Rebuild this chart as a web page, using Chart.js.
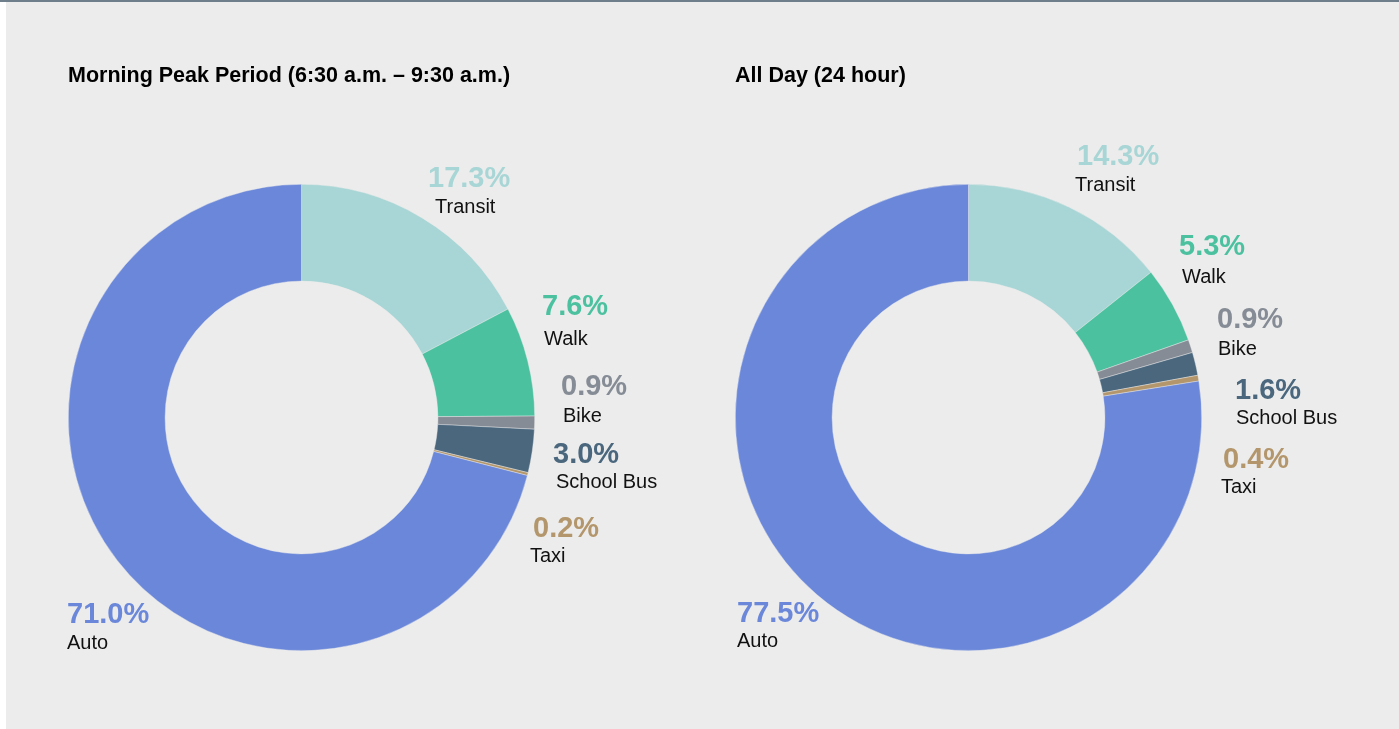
<!DOCTYPE html>
<html>
<head>
<meta charset="utf-8">
<script src="https://cdn.jsdelivr.net/npm/chart.js@4.4.1/dist/chart.umd.min.js"></script>
<style>
  html, body { margin: 0; padding: 0; background: #ffffff; width: 1399px; height: 729px; overflow: hidden; }
  #topline { position: absolute; left: 0; top: 0; width: 1399px; height: 2px; background: #6e7e8b; }
  #panel { position: absolute; left: 6px; top: 2px; width: 1393px; height: 727px; background: #ececec; }
  canvas { position: absolute; top: 0; }
  #c1 { left: 0; }
  #c2 { left: 700px; }
</style>
</head>
<body>
<div id="topline"></div>
<div id="panel"></div>
<canvas id="c1" width="700" height="729" style="width:700px;height:729px"></canvas>
<canvas id="c2" width="699" height="729" style="width:699px;height:729px"></canvas>
<script>
// ---- Data ----
const categories = ['Transit', 'Walk', 'Bike', 'School Bus', 'Taxi', 'Auto'];
const peakValues = [17.3, 7.6, 0.9, 3.0, 0.2, 71.0];
const allDayValues = [14.3, 5.3, 0.9, 1.6, 0.4, 77.5];
const peakTitle = 'Morning Peak Period (6:30 a.m. \u2013 9:30 a.m.)';
const allDayTitle = 'All Day (24 hour)';

// ---- Styles ----
const sliceColors = ['#a8d5d5', '#4cc1a0', '#868c95', '#4a677e', '#b3966b', '#6a87d9'];
const FONT = "'Liberation Sans', Arial, Helvetica, sans-serif";

// label offsets (relative to the donut centre): [pctDx, pctDy, nameDx, nameDy]
const peakLabelLayout = [
  [126.5, -238.5, 133.5, -210.5],
  [240.5, -110.5, 242.5, -78.5],
  [259.5, -30.5, 261.5, -1.0],
  [251.5, 37.5, 254.5, 65.0],
  [231.5, 111.5, 228.5, 139.0],
  [-234.5, 197.5, -234.5, 226.0]
];
const allDayLabelLayout = [
  [108.5, -260.5, 106.5, -232.0],
  [210.5, -170.5, 213.5, -140.0],
  [248.5, -97.5, 249.5, -68.0],
  [266.5, -26.5, 267.5, 1.0],
  [254.5, 42.5, 252.5, 70.0],
  [-231.5, 196.5, -231.5, 224.0]
];

const sliceLabelPlugin = {
  id: 'sliceLabels',
  afterDatasetsDraw(chart, args, opts) {
    const meta = chart.getDatasetMeta(0);
    if (!meta.data.length) return;
    const cx = meta.data[0].x, cy = meta.data[0].y;
    const ds = chart.data.datasets[0];
    const ctx = chart.ctx;
    ctx.save();
    ctx.textAlign = 'left';
    ctx.textBaseline = 'middle';
    chart.data.labels.forEach((lab, i) => {
      const l = opts.layout[i];
      ctx.fillStyle = ds.backgroundColor[i];
      ctx.font = 'bold 29px ' + FONT;
      ctx.fillText(ds.data[i].toFixed(1) + '%', cx + l[0], cy + l[1]);
      ctx.fillStyle = '#111111';
      ctx.font = '20px ' + FONT;
      ctx.fillText(lab, cx + l[2], cy + l[3]);
    });
    ctx.restore();
  }
};

function makeChart(id, values, title, layout, padLeft, padRight) {
  return new Chart(document.getElementById(id), {
    type: 'doughnut',
    data: {
      labels: categories,
      datasets: [{
        data: values,
        backgroundColor: sliceColors,
        borderColor: 'rgba(236,236,236,0.7)',
        borderWidth: 0.6,
        hoverOffset: 0
      }]
    },
    options: {
      responsive: false,
      animation: false,
      events: [],
      cutout: '58.5%',
      rotation: 0,
      layout: { padding: { left: padLeft, right: padRight, top: 63, bottom: 78 } },
      plugins: {
        legend: { display: false },
        tooltip: { enabled: false },
        title: {
          display: true,
          text: title,
          align: 'start',
          color: '#000000',
          font: { family: FONT, size: 21.5, weight: 'bold', lineHeight: 1.2 },
          padding: { top: 0, bottom: 95.2 }
        },
        sliceLabels: { layout: layout }
      }
    },
    plugins: [sliceLabelPlugin]
  });
}

makeChart('c1', peakValues, peakTitle, peakLabelLayout, 68, 165);
makeChart('c2', allDayValues, allDayTitle, allDayLabelLayout, 35, 197);
</script>
</body>
</html>
